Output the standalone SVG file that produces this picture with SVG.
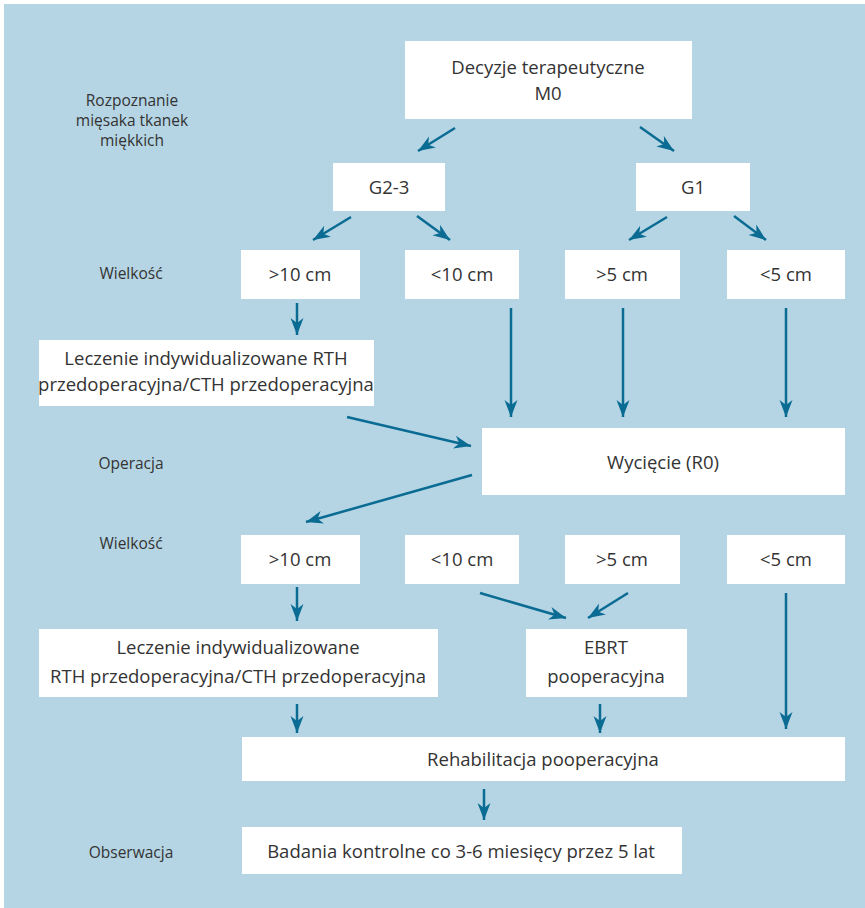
<svg xmlns="http://www.w3.org/2000/svg" width="865" height="908" viewBox="0 0 865 908">
<defs>
<marker id="ah" markerUnits="userSpaceOnUse" markerWidth="20" markerHeight="14" refX="17" refY="7" orient="auto">
<path d="M0,0.5 L17,7 L0,13.5 L5,7 z" fill="#0a6b93"/>
</marker>
<style>
.bx{fill:#ffffff}
.t{font-family:"Open Sans","Noto Sans",sans-serif;font-size:18.5px;fill:#333;text-anchor:middle}
.l{font-family:"Open Sans","Noto Sans",sans-serif;font-size:15.5px;fill:#333;text-anchor:middle}
.c{stroke:#0a6b93;stroke-width:2.5;fill:none;marker-end:url(#ah)}
</style>
</defs>
<rect x="4" y="4" width="861" height="904" fill="#b5d5e4"/>
<g id="labels">
<text class="l" x="132" y="106">Rozpoznanie</text>
<text class="l" x="132" y="126">mięsaka tkanek</text>
<text class="l" x="132" y="146">miękkich</text>
<text class="l" x="131" y="279">Wielkość</text>
<text class="l" x="131" y="469">Operacja</text>
<text class="l" x="131" y="549">Wielkość</text>
<text class="l" x="131" y="858">Obserwacja</text>
</g>
<g id="n_decyzje"><rect class="bx" x="405" y="41" width="287" height="78"/><text class="t" x="548" y="74">Decyzje terapeutyczne</text><text class="t" x="548" y="100">M0</text></g>
<g id="n_g23"><rect class="bx" x="333" y="163" width="112" height="48"/><text class="t" x="389" y="194">G2-3</text></g>
<g id="n_g1"><rect class="bx" x="636" y="163" width="114" height="48"/><text class="t" x="693" y="194">G1</text></g>
<g id="n_a1"><rect class="bx" x="241" y="250" width="119" height="49"/><text class="t" x="300" y="281">&gt;10 cm</text></g>
<g id="n_a2"><rect class="bx" x="405" y="250" width="114" height="49"/><text class="t" x="462" y="281">&lt;10 cm</text></g>
<g id="n_a3"><rect class="bx" x="565" y="250" width="115" height="49"/><text class="t" x="622" y="281">&gt;5 cm</text></g>
<g id="n_a4"><rect class="bx" x="727" y="250" width="118" height="49"/><text class="t" x="786" y="281">&lt;5 cm</text></g>
<g id="n_lecz1"><rect class="bx" x="39" y="340" width="335" height="66"/><text class="t" x="206" y="365">Leczenie indywidualizowane RTH</text><text class="t" x="206" y="391">przedoperacyjna/CTH przedoperacyjna</text></g>
<g id="n_wyc"><rect class="bx" x="482" y="428" width="363" height="67"/><text class="t" x="663" y="469">Wycięcie (R0)</text></g>
<g id="n_b1"><rect class="bx" x="241" y="535" width="119" height="49"/><text class="t" x="300" y="566">&gt;10 cm</text></g>
<g id="n_b2"><rect class="bx" x="405" y="535" width="114" height="49"/><text class="t" x="462" y="566">&lt;10 cm</text></g>
<g id="n_b3"><rect class="bx" x="565" y="535" width="115" height="49"/><text class="t" x="622" y="566">&gt;5 cm</text></g>
<g id="n_b4"><rect class="bx" x="727" y="535" width="118" height="49"/><text class="t" x="786" y="566">&lt;5 cm</text></g>
<g id="n_lecz2"><rect class="bx" x="39" y="629" width="399" height="68"/><text class="t" x="238" y="654">Leczenie indywidualizowane</text><text class="t" x="238" y="683">RTH przedoperacyjna/CTH przedoperacyjna</text></g>
<g id="n_ebrt"><rect class="bx" x="526" y="629" width="161" height="68"/><text class="t" x="606" y="654">EBRT</text><text class="t" x="606" y="683">pooperacyjna</text></g>
<g id="n_rehab"><rect class="bx" x="242" y="737" width="603" height="44"/><text class="t" x="543" y="766">Rehabilitacja pooperacyjna</text></g>
<g id="n_bad"><rect class="bx" x="242" y="827" width="440" height="47"/><text class="t" x="461" y="858">Badania kontrolne co 3-6 miesięcy przez 5 lat</text></g>
<g id="connectors">
<line class="c" x1="455" y1="128" x2="418" y2="151"/>
<line class="c" x1="640" y1="127" x2="674" y2="151"/>
<line class="c" x1="351" y1="217" x2="313" y2="240"/>
<line class="c" x1="417" y1="216" x2="450" y2="240"/>
<line class="c" x1="667" y1="217" x2="629" y2="240"/>
<line class="c" x1="734" y1="216" x2="766" y2="240"/>
<line class="c" x1="297" y1="303" x2="297" y2="335"/>
<line class="c" x1="511" y1="308" x2="511" y2="417"/>
<line class="c" x1="623" y1="308" x2="623" y2="417"/>
<line class="c" x1="786" y1="308" x2="786" y2="417"/>
<line class="c" x1="347" y1="417" x2="471" y2="446"/>
<line class="c" x1="472" y1="475" x2="306" y2="522"/>
<line class="c" x1="297" y1="587" x2="297" y2="621"/>
<line class="c" x1="480" y1="593" x2="566" y2="618"/>
<line class="c" x1="628" y1="593" x2="588" y2="618"/>
<line class="c" x1="786" y1="593" x2="786" y2="729"/>
<line class="c" x1="297" y1="704" x2="297" y2="733"/>
<line class="c" x1="600" y1="704" x2="600" y2="733"/>
<line class="c" x1="484" y1="789" x2="484" y2="820"/>
</g>
</svg>
